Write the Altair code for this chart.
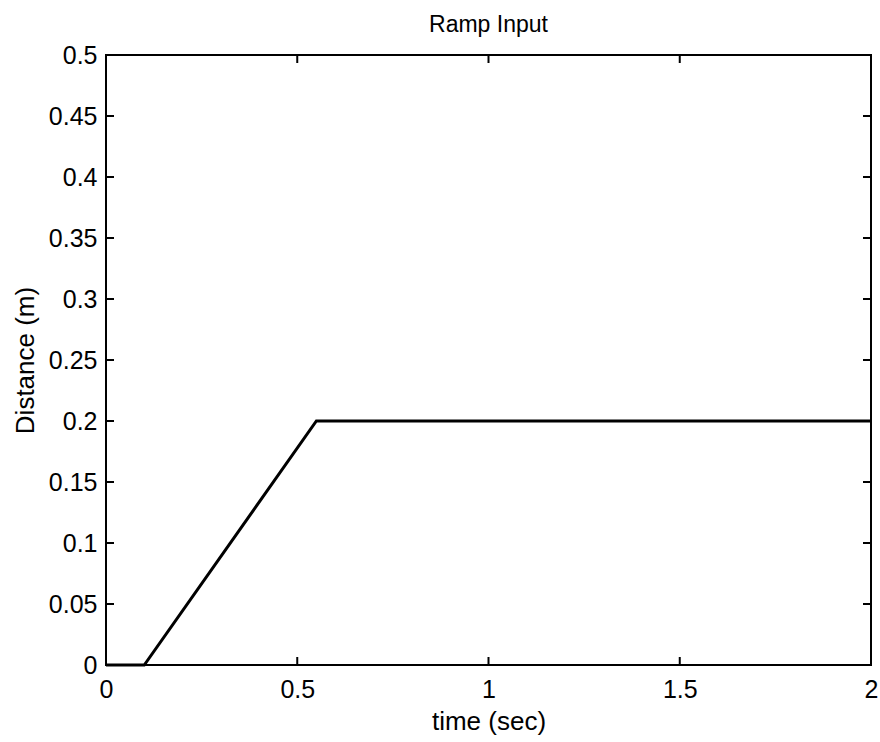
import altair as alt
import pandas as pd

# data
time_s = [0.0, 0.1, 0.55, 2.0]
distance_m = [0.0, 0.0, 0.2, 0.2]
x_ticks = [0, 0.5, 1, 1.5, 2]
y_ticks = [0, 0.05, 0.1, 0.15, 0.2, 0.25, 0.3, 0.35, 0.4, 0.45, 0.5]

W, H = 765, 610
FONT = "Liberation Sans"
TL = 8

line_df = pd.DataFrame({"t": time_s, "d": distance_m})
xt_df = pd.DataFrame({"t": x_ticks})
yt_df = pd.DataFrame({"d": y_ticks})

xscale = alt.Scale(domain=[0, 2], nice=False, zero=False)
yscale = alt.Scale(domain=[0, 0.5], nice=False, zero=False)

xaxis = alt.Axis(values=x_ticks, title="time (sec)", grid=False, domain=False, ticks=False,
                 labelFont=FONT, labelFontSize=25, labelColor="black", labelPadding=12,
                 labelExpr="format(datum.value, '')",
                 titleFont=FONT, titleFontSize=26, titleFontWeight="normal", titleColor="black",
                 titlePadding=6, labelFlush=False)
yaxis = alt.Axis(values=y_ticks, title="Distance (m)", grid=False, domain=False, ticks=False,
                 labelFont=FONT, labelFontSize=25, labelColor="black", labelPadding=9,
                 labelExpr="format(datum.value, '')",
                 titleFont=FONT, titleFontSize=26, titleFontWeight="normal", titleColor="black",
                 titlePadding=10, labelFlush=False)

line = alt.Chart(line_df).mark_line(color="black", strokeWidth=3).encode(
    x=alt.X("t:Q", scale=xscale, axis=xaxis),
    y=alt.Y("d:Q", scale=yscale, axis=yaxis),
)

xb = alt.Chart(xt_df).mark_rule(color="black", strokeWidth=2).encode(
    x=alt.X("t:Q", scale=xscale), y=alt.value(H), y2=alt.value(H - TL))
xtop = alt.Chart(xt_df).mark_rule(color="black", strokeWidth=2).encode(
    x=alt.X("t:Q", scale=xscale), y=alt.value(0), y2=alt.value(TL))
yl = alt.Chart(yt_df).mark_rule(color="black", strokeWidth=2).encode(
    y=alt.Y("d:Q", scale=yscale), x=alt.value(0), x2=alt.value(TL))
yr = alt.Chart(yt_df).mark_rule(color="black", strokeWidth=2).encode(
    y=alt.Y("d:Q", scale=yscale), x=alt.value(W - TL), x2=alt.value(W))

chart = alt.layer(line, xb, xtop, yl, yr).properties(
    width=W, height=H,
    title=alt.TitleParams("Ramp Input", font=FONT, fontSize=23, fontWeight="normal",
                          color="black", offset=6),
    autosize=alt.AutoSizeParams(type="none"),
    padding={"left": 106, "top": 55, "right": 9, "bottom": 77},
    background="white",
).configure_view(stroke="black", strokeWidth=2)

chart.save("out.html", embed_options={"renderer": "svg", "actions": False})
